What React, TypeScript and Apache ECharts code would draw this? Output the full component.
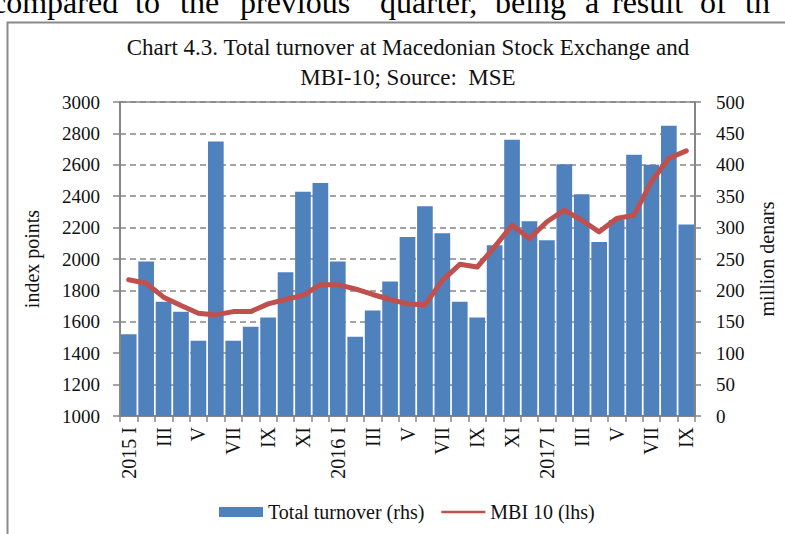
import React, { useEffect, useRef } from "react";
import * as echarts from "echarts";

const months = ["I", "II", "III", "IV", "V", "VI", "VII", "VIII", "IX", "X", "XI", "XII"];
const categories: string[] = [
  ...months.map((m, i) => (i === 0 ? "2015 " + m : m)),
  ...months.map((m, i) => (i === 0 ? "2016 " + m : m)),
  ...months.slice(0, 9).map((m, i) => (i === 0 ? "2017 " + m : m)),
];

// Total turnover, million denars (rhs)
const turnover = [
  130, 246, 182, 166, 120, 437, 120, 142, 157, 229, 357, 371,
  246, 126, 168, 214, 285, 334, 291, 182, 157, 272, 440, 310,
  280, 401, 353, 277, 312, 416, 400, 462, 305,
];

// MBI 10 index points (lhs)
const mbi10 = [
  1868, 1846, 1757, 1704, 1655, 1644, 1665, 1665, 1714, 1742, 1768, 1836,
  1836, 1810, 1774, 1742, 1714, 1708, 1864, 1966, 1949, 2077, 2215, 2130,
  2237, 2311, 2247, 2173, 2258, 2279, 2493, 2642, 2689,
];

const topWords = ["compared", "to", "the", "previous", "quarter,", "being", "a", "result", "of", "th"];
const topWordX = [-8, 135, 180, 240, 380, 495, 585, 612, 700, 745];

const FONT = "'Liberation Serif', 'DejaVu Serif', serif";

export default function App() {
  const ref = useRef<HTMLDivElement>(null);
  useEffect(() => {
    if (!ref.current) return;
    const chart = echarts.init(ref.current, null, { renderer: "svg" });
    const axisGray = "#868686";
    chart.setOption({
      animation: false,
      backgroundColor: "#ffffff",
      textStyle: { fontFamily: FONT },
      title: {
        text: "Chart 4.3. Total turnover at Macedonian Stock Exchange and\nMBI-10; Source:  MSE",
        left: 403,
        top: 27,
        textAlign: "center",
        textStyle: { fontFamily: FONT, fontSize: 23, fontWeight: "normal", color: "#111", lineHeight: 30 },
      },
      graphic: [
        {
          type: "rect",
          shape: { x: 7.5, y: 22.5, width: 900, height: 700 },
          style: { fill: "none", stroke: "#8a8a8a", lineWidth: 2 },
          silent: true,
        },
        ...topWords.map((w, i) => ({
          type: "text",
          x: topWordX[i],
          y: 1.5,
          style: { text: w, font: "32px " + FONT, fill: "#000", verticalAlign: "middle", align: "left" },
          silent: true,
        })),
      ],
      legend: {
        bottom: 7,
        left: 214,
        itemWidth: 44,
        itemHeight: 10,
        itemGap: 17,
        textStyle: { fontFamily: FONT, fontSize: 20, color: "#111" },
        data: [
          { name: "Total turnover (rhs)", icon: "rect" },
          { name: "MBI 10 (lhs)", icon: "path://M0,0H90V5H0Z" },
        ],
      },
      grid: {
        left: 120,
        right: 90,
        top: 102,
        bottom: 118,
        show: true,
        borderColor: axisGray,
        borderWidth: 1.5,
        backgroundColor: "transparent",
      },
      xAxis: {
        type: "category",
        data: categories,
        boundaryGap: true,
        axisLine: { lineStyle: { color: axisGray, width: 2 } },
        axisTick: { show: true, interval: 0, length: 6, lineStyle: { color: axisGray, width: 1.5 } },
        axisLabel: {
          interval: 1,
          rotate: 90,
          fontFamily: FONT,
          fontSize: 20,
          color: "#111",
          margin: 11,
        },
      },
      yAxis: [
        {
          type: "value",
          min: 1000,
          max: 3000,
          interval: 200,
          name: "index points",
          nameLocation: "middle",
          nameRotate: 90,
          nameGap: 78,
          nameTextStyle: { fontFamily: FONT, fontSize: 20, color: "#111" },
          axisLine: { show: true, lineStyle: { color: axisGray, width: 2 } },
          axisTick: { show: true, length: 7, lineStyle: { color: axisGray, width: 1.5 } },
          axisLabel: { fontFamily: FONT, fontSize: 19, color: "#111", margin: 20, formatter: (v: number) => String(v) },
          splitLine: { show: true, lineStyle: { color: axisGray, width: 1.5, type: [6, 4] } },
        },
        {
          type: "value",
          min: 0,
          max: 500,
          interval: 50,
          name: "million denars",
          nameLocation: "middle",
          nameRotate: 90,
          nameGap: 62,
          nameTextStyle: { fontFamily: FONT, fontSize: 20, color: "#111" },
          axisLine: { show: true, lineStyle: { color: axisGray, width: 2 } },
          axisTick: { show: true, length: 6, lineStyle: { color: axisGray, width: 1.5 } },
          axisLabel: { fontFamily: FONT, fontSize: 19, color: "#111", margin: 21, formatter: (v: number) => String(v) },
          splitLine: { show: false },
        },
      ],
      series: [
        {
          name: "Total turnover (rhs)",
          type: "bar",
          yAxisIndex: 1,
          data: turnover,
          barCategoryGap: "10%",
          itemStyle: { color: "#4F81BD" },
        },
        {
          name: "MBI 10 (lhs)",
          type: "line",
          yAxisIndex: 0,
          data: mbi10,
          symbol: "none",
          lineStyle: { color: "#C0504D", width: 5, cap: "round", join: "round" },
          itemStyle: { color: "#C0504D" },
        },
      ],
    });
    return () => chart.dispose();
  }, []);
  return (
    <div
      ref={ref}
      style={{ position: "fixed", left: 0, top: 0, width: 785, height: 534 }}
    />
  );
}
